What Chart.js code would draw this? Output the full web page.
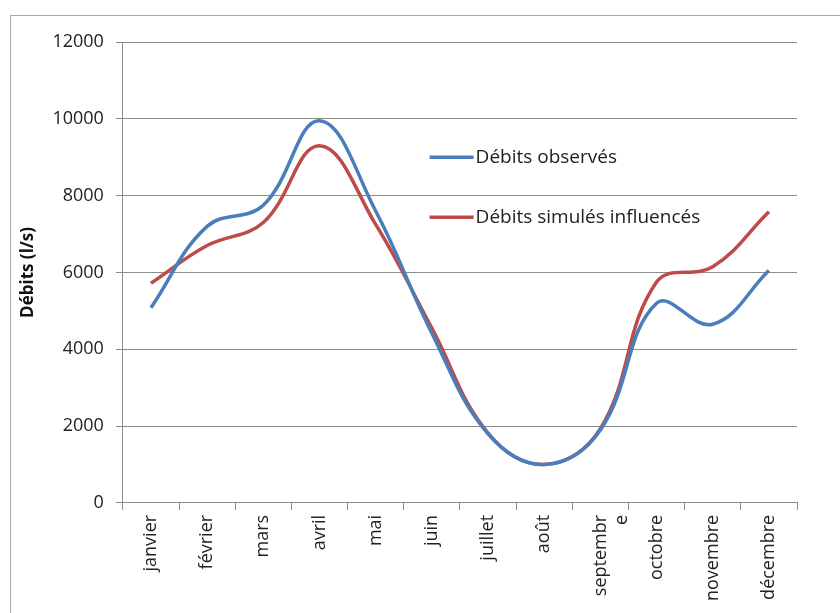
<!DOCTYPE html>
<html>
<head>
<meta charset="utf-8">
<script src="https://cdn.jsdelivr.net/npm/chart.js@4/dist/chart.umd.min.js"></script>
<style>
  html, body { margin: 0; padding: 0; background: #fff; }
  #frame {
    position: absolute; left: 10px; top: 15px; width: 840px; height: 610px;
    border-left: 1px solid #a8a8a8; border-top: 1px solid #a8a8a8;
  }
  #wrap { position: absolute; left: 0; top: 0; width: 840px; height: 613px; }
</style>
</head>
<body>
<div id="frame"></div>
<div id="wrap"><canvas id="myChart"></canvas></div>
<script>
const months = [
  'janvier', 'février', 'mars', 'avril', 'mai', 'juin', 'juillet',
  'août', ['septembr', 'e'], 'octobre', 'novembre', 'décembre'
];

const observes = [5080, 7200, 7750, 9950, 7600, 4420, 1800, 1000, 1900, 5200, 4650, 6050];
const simules = [5720, 6700, 7300, 9300, 7250, 4550, 1820, 1000, 1930, 5750, 6150, 7580];

const yTicks = [0, 2000, 4000, 6000, 8000, 10000, 12000];

const fontFamily = '"Open Sans", "Noto Sans", sans-serif';

// legend drawn inside the plot area, not in the usual box above it
const innerLegend = {
  id: 'innerLegend',
  afterDraw(chart) {
    const ctx = chart.ctx;
    const area = chart.chartArea;
    const h = area.bottom - area.top;
    const x0 = area.left + (area.right - area.left) * 0.455;
    const rows = [area.top + h * 0.25, area.top + h * 0.38];
    ctx.save();
    chart.data.datasets.forEach((ds, i) => {
      const y = rows[i];
      ctx.strokeStyle = ds.borderColor;
      ctx.lineWidth = 3.5;
      ctx.beginPath();
      ctx.moveTo(x0, y);
      ctx.lineTo(x0 + 44, y);
      ctx.stroke();
      ctx.fillStyle = '#222';
      ctx.font = '19px ' + fontFamily;
      ctx.textBaseline = 'middle';
      ctx.fillText(ds.label, x0 + 46, y);
    });
    ctx.restore();
  }
};

function buildGraph() {
  let ctx = document.getElementById('myChart');

  new Chart(ctx, {
    type: 'line',
    data: {
      labels: months,
      datasets: [
        {
          label: 'Débits observés',
          data: observes,
          borderColor: '#4a7ebb',
          borderWidth: 3.5,
          pointRadius: 0,
          tension: 0.4,
          fill: false
        },
        {
          label: 'Débits simulés influencés',
          data: simules,
          borderColor: '#be4b48',
          borderWidth: 3.5,
          pointRadius: 0,
          tension: 0.4,
          fill: false
        }
      ]
    },
    plugins: [innerLegend],
    options: {
      responsive: true,
      maintainAspectRatio: false,
      animation: false,
      layout: {
        padding: { left: 18, top: 42, right: 43, bottom: 7 }
      },
      plugins: {
        legend: { display: false },
        tooltip: { enabled: false }
      },
      scales: {
        x: {
          offset: true,
          grid: {
            offset: true,
            drawOnChartArea: false,
            drawTicks: true,
            tickLength: 7,
            color: '#8c8c8c'
          },
          border: { color: '#8c8c8c' },
          ticks: {
            minRotation: 90,
            maxRotation: 90,
            padding: 5,
            color: '#222',
            font: { family: fontFamily, size: 18 }
          }
        },
        y: {
          min: 0,
          max: 12000,
          afterBuildTicks: scale => {
            scale.ticks = yTicks.map(v => ({ value: v }));
          },
          grid: {
            color: '#8c8c8c',
            tickLength: 7
          },
          border: { color: '#8c8c8c' },
          ticks: {
            padding: 12,
            color: '#222',
            font: { family: fontFamily, size: 18 },
            callback: value => String(value)
          },
          title: {
            display: true,
            text: 'Débits (l/s)',
            color: '#111',
            padding: { top: 0, bottom: 2 },
            font: { family: fontFamily, size: 17, weight: 'bold' }
          }
        }
      }
    }
  });
}

window.addEventListener('DOMContentLoaded', buildGraph);
</script>
</body>
</html>
